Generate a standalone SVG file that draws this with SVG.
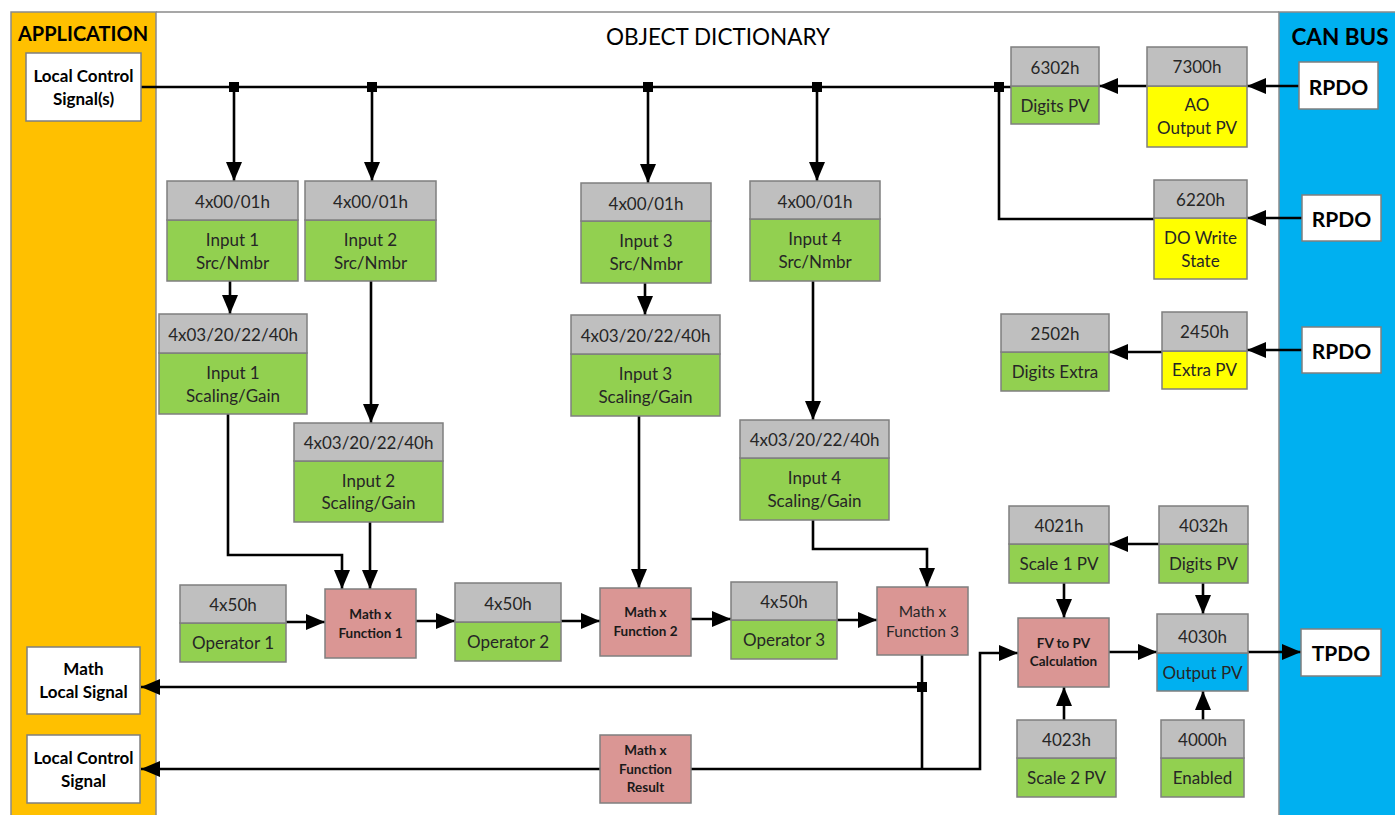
<svg xmlns="http://www.w3.org/2000/svg" width="1395" height="815" viewBox="0 0 1395 815">
  <style>
    .frame { stroke: #8a8a8a; stroke-width: 1.5; }
    .hdr { fill: #bfbfbf; stroke: #7f7f7f; stroke-width: 1.5; }
    .grn { fill: #92d050; stroke: #7f7f7f; stroke-width: 1.5; }
    .yel { fill: #ffff00; stroke: #7f7f7f; stroke-width: 1.5; }
    .blu { fill: #00b0f0; stroke: #7f7f7f; stroke-width: 1.5; }
    .pnk { fill: #da9694; stroke: #7f7f7f; stroke-width: 1.5; }
    .wht { fill: #ffffff; stroke: #7f7f7f; stroke-width: 1.5; }
    text { font-family: Lato, "Open Sans", "Liberation Sans", sans-serif; text-anchor: middle; dominant-baseline: central; }
    .t { font-size: 17px; fill: #262626; }
    .wb { font-size: 17px; font-weight: bold; fill: #000; }
    .pd { font-size: 21px; font-weight: bold; fill: #000; }
    .mb { font-size: 13.5px; font-weight: bold; fill: #1a1a1a; }
    .mn { font-size: 15.5px; fill: #262626; }
    .title { font-size: 20px; font-weight: bold; fill: #000; }
    .can { font-size: 22.5px; font-weight: bold; fill: #000; }
    .od { font-size: 22.5px; fill: #000; }
    #connectors path { stroke: #000; stroke-width: 2.6; fill: none; }
    #connectors .arr { marker-end: url(#head); }
    #connectors rect { fill: #000; }
  </style>
  <defs>
    <marker id="head" markerUnits="userSpaceOnUse" markerWidth="19" markerHeight="16" refX="19" refY="8" orient="auto">
      <path d="M0,0 L19,8 L0,16 z" fill="#000"/>
    </marker>
  </defs>

  <!-- background panels -->
  <rect x="0" y="0" width="1395" height="815" fill="#fff"/>
  <g id="panel-application">
    <rect class="frame" x="11" y="12" width="145" height="810" fill="#ffc000"/>
    <text class="title" x="83" y="33">APPLICATION</text>
  </g>
  <g id="panel-canbus">
    <rect class="frame" x="1279" y="12" width="125" height="810" fill="#00b0f0"/>
    <text class="can" x="1340" y="36">CAN BUS</text>
  </g>
  <path class="frame" d="M156,12 H1279" fill="none"/>
  <text class="od" x="718" y="36">OBJECT DICTIONARY</text>

  <!-- connectors -->
  <g id="connectors">
    <path d="M141,87 H1011"/>
    <path class="arr" d="M234,87 V181"/>
    <path class="arr" d="M372,87 V181"/>
    <path class="arr" d="M648,87 V183"/>
    <path class="arr" d="M817,87 V181"/>
    <path class="arr" d="M230,281 V314"/>
    <path class="arr" d="M371,281 V423"/>
    <path class="arr" d="M645,283 V315"/>
    <path class="arr" d="M813,281 V420"/>
    <path class="arr" d="M228,414 V555 H342 V589"/>
    <path class="arr" d="M370,522 V589"/>
    <path class="arr" d="M639,416 V588"/>
    <path class="arr" d="M813,520 V549 H927 V587"/>
    <path class="arr" d="M286,622 H325"/>
    <path class="arr" d="M416,621 H455"/>
    <path class="arr" d="M561,621 H600"/>
    <path class="arr" d="M691,619 H731"/>
    <path class="arr" d="M837,620 H877"/>
    <path d="M922,655 V769"/>
    <path class="arr" d="M922,687 H141"/>
    <path class="arr" d="M922,769 H141"/>
    <path class="arr" d="M922,769 H980 V653 H1018"/>
    <path d="M999,87 V219 H1154"/>
    <path class="arr" d="M1147,86 H1099"/>
    <path class="arr" d="M1299,86 H1247"/>
    <path class="arr" d="M1302,218 H1247"/>
    <path class="arr" d="M1162,352 H1109"/>
    <path class="arr" d="M1302,350 H1247"/>
    <path class="arr" d="M1159,544 H1109"/>
    <path class="arr" d="M1064,583 V618"/>
    <path class="arr" d="M1203,583 V614"/>
    <path class="arr" d="M1109,652 H1157"/>
    <path class="arr" d="M1248,652 H1301"/>
    <path class="arr" d="M1064,720 V687"/>
    <path class="arr" d="M1203,720 V691"/>
    <rect x="229" y="82" width="10" height="10"/>
    <rect x="367" y="82" width="10" height="10"/>
    <rect x="643" y="82" width="10" height="10"/>
    <rect x="812" y="82" width="10" height="10"/>
    <rect x="994" y="82" width="10" height="10"/>
    <rect x="917" y="682" width="10" height="10"/>
  </g>

  <!-- application side -->
  <g id="local-control-signals">
    <rect class="wht" x="26" y="53" width="115" height="68"/>
    <text class="wb" x="83.5" y="75">Local Control</text>
    <text class="wb" x="83.5" y="98">Signal(s)</text>
  </g>
  <g id="math-local-signal">
    <rect class="wht" x="27" y="647" width="113" height="67"/>
    <text class="wb" x="83.5" y="668">Math</text>
    <text class="wb" x="83.5" y="691">Local Signal</text>
  </g>
  <g id="local-control-signal">
    <rect class="wht" x="27" y="735" width="113" height="68"/>
    <text class="wb" x="83.5" y="757">Local Control</text>
    <text class="wb" x="83.5" y="780">Signal</text>
  </g>

  <!-- input source selectors -->
  <g id="input1-src">
    <rect class="grn" x="167" y="220" width="131" height="61"/>
    <rect class="hdr" x="167" y="181" width="131" height="39"/>
    <text class="t" x="232.5" y="201">4x00/01h</text>
    <text class="t" x="232.5" y="239">Input 1</text>
    <text class="t" x="232.5" y="262">Src/Nmbr</text>
  </g>
  <g id="input2-src">
    <rect class="grn" x="305" y="220" width="131" height="61"/>
    <rect class="hdr" x="305" y="181" width="131" height="39"/>
    <text class="t" x="370.5" y="201">4x00/01h</text>
    <text class="t" x="370.5" y="239">Input 2</text>
    <text class="t" x="370.5" y="262">Src/Nmbr</text>
  </g>
  <g id="input3-src">
    <rect class="grn" x="581" y="221" width="130" height="62"/>
    <rect class="hdr" x="581" y="183" width="130" height="38"/>
    <text class="t" x="646" y="203">4x00/01h</text>
    <text class="t" x="646" y="240">Input 3</text>
    <text class="t" x="646" y="263">Src/Nmbr</text>
  </g>
  <g id="input4-src">
    <rect class="grn" x="750" y="219" width="130" height="62"/>
    <rect class="hdr" x="750" y="181" width="130" height="38"/>
    <text class="t" x="815" y="201">4x00/01h</text>
    <text class="t" x="815" y="238">Input 4</text>
    <text class="t" x="815" y="261">Src/Nmbr</text>
  </g>

  <!-- input scaling -->
  <g id="input1-scaling">
    <rect class="grn" x="159" y="353" width="148" height="61"/>
    <rect class="hdr" x="159" y="314" width="148" height="39"/>
    <text class="t" x="233" y="334">4x03/20/22/40h</text>
    <text class="t" x="233" y="372">Input 1</text>
    <text class="t" x="233" y="395">Scaling/Gain</text>
  </g>
  <g id="input2-scaling">
    <rect class="grn" x="294" y="461" width="149" height="61"/>
    <rect class="hdr" x="294" y="423" width="149" height="38"/>
    <text class="t" x="368.5" y="442">4x03/20/22/40h</text>
    <text class="t" x="368.5" y="480">Input 2</text>
    <text class="t" x="368.5" y="502">Scaling/Gain</text>
  </g>
  <g id="input3-scaling">
    <rect class="grn" x="571" y="354" width="149" height="62"/>
    <rect class="hdr" x="571" y="315" width="149" height="39"/>
    <text class="t" x="645.5" y="335">4x03/20/22/40h</text>
    <text class="t" x="645.5" y="373">Input 3</text>
    <text class="t" x="645.5" y="396">Scaling/Gain</text>
  </g>
  <g id="input4-scaling">
    <rect class="grn" x="740" y="458" width="149" height="62"/>
    <rect class="hdr" x="740" y="420" width="149" height="38"/>
    <text class="t" x="814.5" y="439">4x03/20/22/40h</text>
    <text class="t" x="814.5" y="477">Input 4</text>
    <text class="t" x="814.5" y="500">Scaling/Gain</text>
  </g>

  <!-- operators -->
  <g id="operator1">
    <rect class="grn" x="180" y="623" width="106" height="39"/>
    <rect class="hdr" x="180" y="585" width="106" height="38"/>
    <text class="t" x="233" y="604">4x50h</text>
    <text class="t" x="233" y="642">Operator 1</text>
  </g>
  <g id="operator2">
    <rect class="grn" x="455" y="622" width="106" height="39"/>
    <rect class="hdr" x="455" y="583" width="106" height="39"/>
    <text class="t" x="508" y="603">4x50h</text>
    <text class="t" x="508" y="641">Operator 2</text>
  </g>
  <g id="operator3">
    <rect class="grn" x="731" y="620" width="106" height="39"/>
    <rect class="hdr" x="731" y="582" width="106" height="38"/>
    <text class="t" x="784" y="601">4x50h</text>
    <text class="t" x="784" y="639">Operator 3</text>
  </g>

  <!-- math functions -->
  <g id="math-function1">
    <rect class="pnk" x="325" y="589" width="91" height="69"/>
    <text class="mb" x="370.5" y="614">Math x</text>
    <text class="mb" x="370.5" y="633">Function 1</text>
  </g>
  <g id="math-function2">
    <rect class="pnk" x="600" y="588" width="91" height="68"/>
    <text class="mb" x="645.5" y="612">Math x</text>
    <text class="mb" x="645.5" y="631">Function 2</text>
  </g>
  <g id="math-function3">
    <rect class="pnk" x="877" y="587" width="91" height="68"/>
    <text class="mn" x="922.5" y="611">Math x</text>
    <text class="mn" x="922.5" y="631">Function 3</text>
  </g>
  <g id="math-function-result">
    <rect class="pnk" x="600" y="735" width="91" height="68"/>
    <text class="mb" x="645.5" y="750">Math x</text>
    <text class="mb" x="645.5" y="769">Function</text>
    <text class="mb" x="645.5" y="787">Result</text>
  </g>

  <!-- received objects -->
  <g id="obj-6302h">
    <rect class="grn" x="1011" y="86" width="88" height="38"/>
    <rect class="hdr" x="1011" y="47" width="88" height="39"/>
    <text class="t" x="1055" y="67">6302h</text>
    <text class="t" x="1055" y="105">Digits PV</text>
  </g>
  <g id="obj-7300h">
    <rect class="yel" x="1147" y="86" width="100" height="61"/>
    <rect class="hdr" x="1147" y="47" width="100" height="39"/>
    <text class="t" x="1197" y="66">7300h</text>
    <text class="t" x="1197" y="104">AO</text>
    <text class="t" x="1197" y="127">Output PV</text>
  </g>
  <g id="obj-6220h">
    <rect class="yel" x="1154" y="218" width="93" height="61"/>
    <rect class="hdr" x="1154" y="180" width="93" height="38"/>
    <text class="t" x="1200.5" y="199">6220h</text>
    <text class="t" x="1200.5" y="237">DO Write</text>
    <text class="t" x="1200.5" y="260">State</text>
  </g>
  <g id="obj-2502h">
    <rect class="grn" x="1001" y="352" width="108" height="39"/>
    <rect class="hdr" x="1001" y="314" width="108" height="38"/>
    <text class="t" x="1055" y="333">2502h</text>
    <text class="t" x="1055" y="371">Digits Extra</text>
  </g>
  <g id="obj-2450h">
    <rect class="yel" x="1162" y="351" width="85" height="38"/>
    <rect class="hdr" x="1162" y="312" width="85" height="39"/>
    <text class="t" x="1204.5" y="331">2450h</text>
    <text class="t" x="1204.5" y="369">Extra PV</text>
  </g>

  <!-- output chain -->
  <g id="obj-4021h">
    <rect class="grn" x="1009" y="544" width="100" height="39"/>
    <rect class="hdr" x="1009" y="506" width="100" height="38"/>
    <text class="t" x="1059" y="525">4021h</text>
    <text class="t" x="1059" y="563">Scale 1 PV</text>
  </g>
  <g id="obj-4032h">
    <rect class="grn" x="1159" y="544" width="89" height="39"/>
    <rect class="hdr" x="1159" y="506" width="89" height="38"/>
    <text class="t" x="1203.5" y="525">4032h</text>
    <text class="t" x="1203.5" y="563">Digits PV</text>
  </g>
  <g id="fv-to-pv">
    <rect class="pnk" x="1018" y="618" width="91" height="69"/>
    <text class="mb" x="1063.5" y="643">FV to PV</text>
    <text class="mb" x="1063.5" y="661">Calculation</text>
  </g>
  <g id="obj-4030h">
    <rect class="blu" x="1157" y="653" width="91" height="38"/>
    <rect class="hdr" x="1157" y="614" width="91" height="39"/>
    <text class="t" x="1202.5" y="636">4030h</text>
    <text class="t" x="1202.5" y="672">Output PV</text>
  </g>
  <g id="obj-4023h">
    <rect class="grn" x="1017" y="758" width="99" height="39"/>
    <rect class="hdr" x="1017" y="720" width="99" height="38"/>
    <text class="t" x="1066.5" y="739">4023h</text>
    <text class="t" x="1066.5" y="777">Scale 2 PV</text>
  </g>
  <g id="obj-4000h">
    <rect class="grn" x="1161" y="758" width="83" height="39"/>
    <rect class="hdr" x="1161" y="720" width="83" height="38"/>
    <text class="t" x="1202.5" y="739">4000h</text>
    <text class="t" x="1202.5" y="777">Enabled</text>
  </g>

  <!-- CAN bus PDOs -->
  <g id="rpdo1">
    <rect class="wht" x="1299" y="62" width="79" height="47"/>
    <text class="pd" x="1338.5" y="86">RPDO</text>
  </g>
  <g id="rpdo2">
    <rect class="wht" x="1302" y="195" width="79" height="46"/>
    <text class="pd" x="1341.5" y="218">RPDO</text>
  </g>
  <g id="rpdo3">
    <rect class="wht" x="1302" y="327" width="79" height="46"/>
    <text class="pd" x="1341.5" y="350">RPDO</text>
  </g>
  <g id="tpdo">
    <rect class="wht" x="1301" y="629" width="80" height="47"/>
    <text class="pd" x="1341" y="652">TPDO</text>
  </g>
</svg>
